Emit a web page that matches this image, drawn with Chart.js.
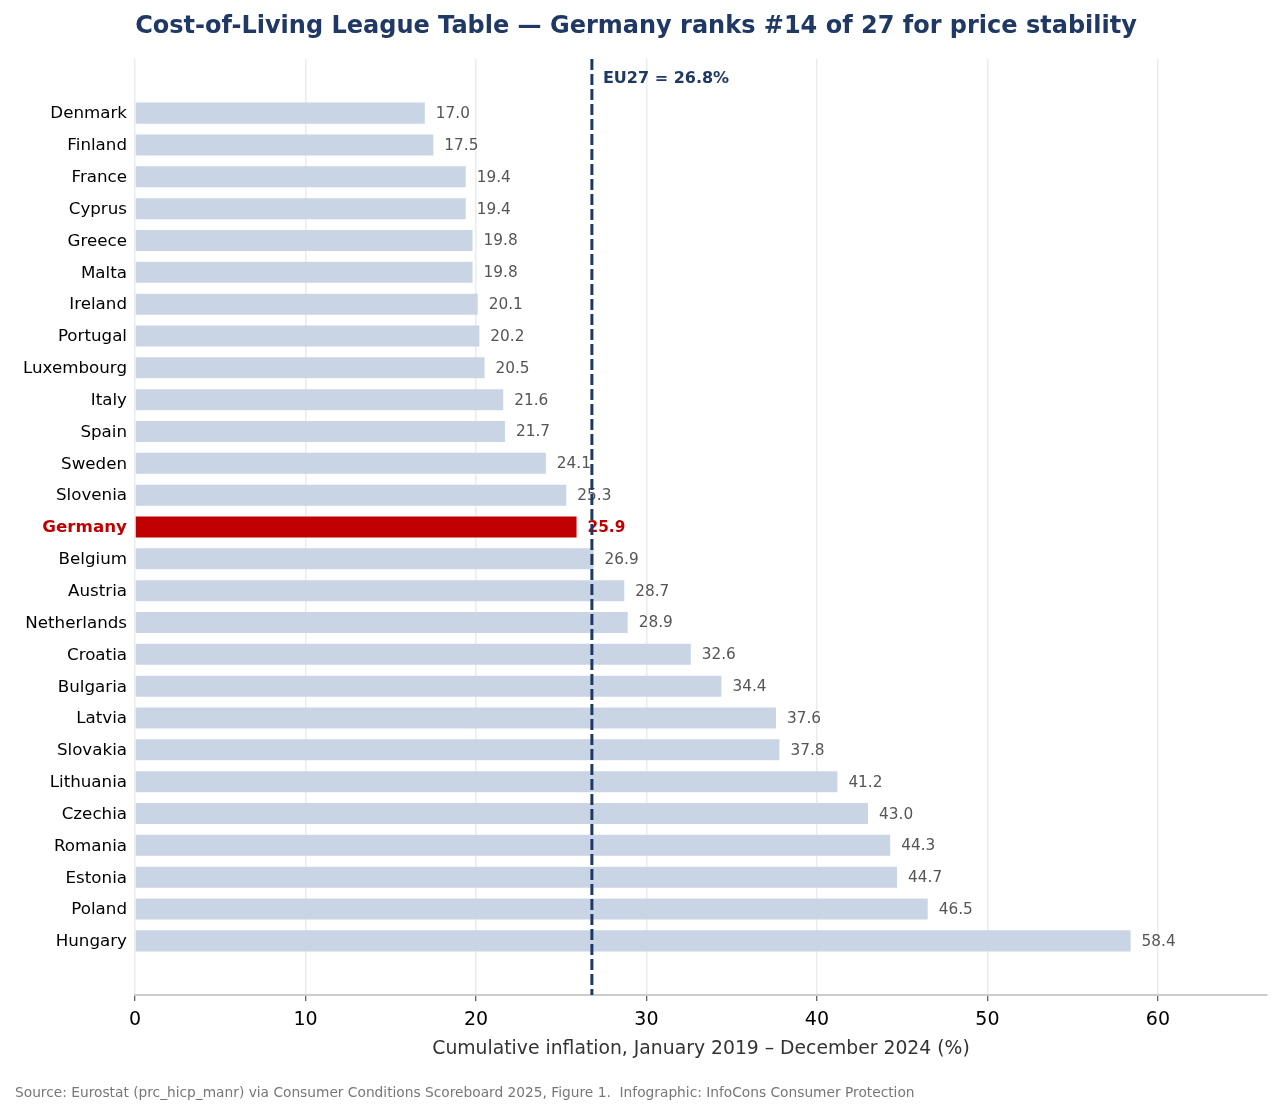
<!DOCTYPE html>
<html>
<head>
<meta charset="utf-8">
<title>Cost-of-Living League Table</title>
<script src="https://cdn.jsdelivr.net/npm/chart.js@4"></script>
<style>
  html, body { margin: 0; padding: 0; background: #fff; }
  canvas { display: block; }
</style>
</head>
<body>
<canvas id="league" width="1282" height="1115"></canvas>
<script>
// data, sorted from lowest to highest cumulative inflation
const countries = ['Denmark', 'Finland', 'France', 'Cyprus', 'Greece', 'Malta', 'Ireland', 'Portugal',
    'Luxembourg', 'Italy', 'Spain', 'Sweden', 'Slovenia', 'Germany', 'Belgium', 'Austria', 'Netherlands',
    'Croatia', 'Bulgaria', 'Latvia', 'Slovakia', 'Lithuania', 'Czechia', 'Romania', 'Estonia', 'Poland', 'Hungary'];
const inflation = [17.0, 17.5, 19.4, 19.4, 19.8, 19.8, 20.1, 20.2, 20.5, 21.6, 21.7, 24.1, 25.3, 25.9,
    26.9, 28.7, 28.9, 32.6, 34.4, 37.6, 37.8, 41.2, 43.0, 44.3, 44.7, 46.5, 58.4];
const xTicks = [0, 10, 20, 30, 40, 50, 60];
const eu27 = 26.8;
const highlight = 'Germany';

const titleText = 'Cost-of-Living League Table \u2014 Germany ranks #14 of 27 for price stability';
const xTitle = 'Cumulative inflation, January 2019 \u2013 December 2024 (%)';
const sourceText = 'Source: Eurostat (prc_hicp_manr) via Consumer Conditions Scoreboard 2025, Figure 1.  Infographic: InfoCons Consumer Protection';

const NAVY = '#1f3864';
const RED = '#c00000';
const BAR = '#c9d5e5';
const FONT = "'DejaVu Sans', sans-serif";

Chart.defaults.font.family = FONT;

function isHighlight(i) {
    return countries[i] === highlight;
}

function tickIsHighlight(c) {
    return !!(c && c.tick && isHighlight(c.tick.value));
}

// value labels, EU27 reference line, title and source
const decorations = {
    id: 'decorations',
    afterDatasetsDraw(chart) {
        const ctx = chart.ctx;
        const area = chart.chartArea;
        const meta = chart.getDatasetMeta(0);

        ctx.save();
        ctx.textBaseline = 'middle';
        ctx.textAlign = 'left';
        meta.data.forEach((bar, i) => {
            const hi = isHighlight(i);
            ctx.font = (hi ? 'bold ' : '') + '15.3px ' + FONT;
            ctx.fillStyle = hi ? RED : '#555555';
            ctx.fillText(inflation[i].toFixed(1), bar.x + 11, bar.y + 1);
        });

        const xPos = chart.scales.x.getPixelForValue(eu27);
        ctx.beginPath();
        ctx.setLineDash([11, 4]);
        ctx.lineWidth = 3;
        ctx.strokeStyle = NAVY;
        ctx.moveTo(xPos, area.top);
        ctx.lineTo(xPos, area.bottom);
        ctx.stroke();
        ctx.setLineDash([]);

        ctx.font = 'bold 16px ' + FONT;
        ctx.fillStyle = NAVY;
        ctx.fillText('EU27 = ' + eu27.toFixed(1) + '%', xPos + 11, area.top + 20);
        ctx.restore();
    },
    afterDraw(chart) {
        const ctx = chart.ctx;
        ctx.save();
        ctx.textBaseline = 'middle';
        ctx.textAlign = 'center';
        ctx.font = 'bold 24px ' + FONT;
        ctx.fillStyle = NAVY;
        ctx.fillText(titleText, 636, 27);

        ctx.textAlign = 'left';
        ctx.font = '13.75px ' + FONT;
        ctx.fillStyle = '#777777';
        ctx.fillText(sourceText, 15, 1093);
        ctx.restore();
    }
};

const ctx = document.getElementById('league').getContext('2d');
new Chart(ctx, {
    type: 'bar',
    data: {
        datasets: [{
            data: inflation.map((v, i) => ({ x: v, y: i })),
            backgroundColor: inflation.map((v, i) => isHighlight(i) ? RED : BAR),
            borderWidth: 0,
            barPercentage: 0.66,
            categoryPercentage: 1
        }]
    },
    options: {
        indexAxis: 'y',
        responsive: false,
        devicePixelRatio: 1,
        animation: false,
        layout: { padding: { top: 59, right: 15, bottom: 0, left: 0 } },
        plugins: {
            legend: { display: false },
            title: { display: false },
            tooltip: { enabled: false }
        },
        scales: {
            x: {
                type: 'linear',
                min: 0,
                max: 66.4,
                afterBuildTicks: (scale) => { scale.ticks = xTicks.map(v => ({ value: v })); },
                afterFit: (scale) => { scale.height = 120; },
                grid: {
                    color: '#ebebeb',
                    lineWidth: 1.5,
                    tickColor: '#333333',
                    tickWidth: 1,
                    tickLength: 6
                },
                border: { color: '#cccccc', width: 2 },
                ticks: {
                    color: '#000000',
                    font: { size: 19 },
                    padding: 8
                },
                title: {
                    display: true,
                    text: xTitle,
                    color: '#333333',
                    font: { size: 18.8 },
                    padding: { top: 0, bottom: 55 }
                }
            },
            y: {
                type: 'linear',
                reverse: true,
                offset: false,
                min: -1.7,
                max: countries.length - 1 + 1.7,
                afterBuildTicks: (scale) => { scale.ticks = countries.map((c, i) => ({ value: i })); },
                afterFit: (scale) => { scale.width = 135; },
                grid: { display: false, drawTicks: false },
                border: { display: false },
                ticks: {
                    autoSkip: false,
                    padding: 8,
                    labelOffset: 1,
                    callback: (value) => countries[value],
                    color: (c) => tickIsHighlight(c) ? RED : '#000000',
                    font: (c) => ({ size: 16.7, weight: tickIsHighlight(c) ? 'bold' : 'normal' })
                }
            }
        }
    },
    plugins: [decorations]
});
</script>
</body>
</html>
